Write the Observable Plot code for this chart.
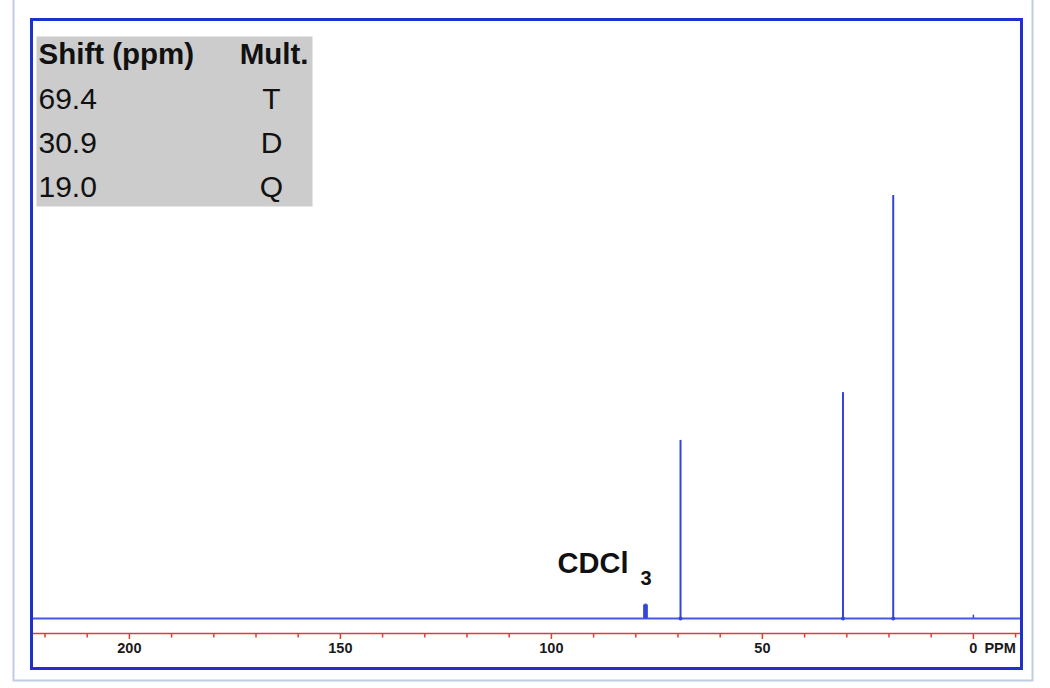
<!DOCTYPE html>
<html>
<head>
<meta charset="utf-8">
<script src="https://cdn.jsdelivr.net/npm/d3@7"></script>
<script src="https://cdn.jsdelivr.net/npm/@observablehq/plot@0.6"></script>
<style>
  html, body { margin: 0; padding: 0; background: #ffffff; }
  #chart svg { display: block; }
</style>
</head>
<body>
<div id="chart"></div>
<script>
// ---- data ----
const shiftPpm = [69.4, 30.9, 19.0];
const multiplicity = ["T", "D", "Q"];
const peakHeight = [42.1, 53.4, 100];          // relative intensity
const solventPpm = [78.0, 77.7, 77.4];          // CDCl3 triplet
const solventHeight = [3.2, 3.4, 3.2];
const solventLabel = "CDCl";
const solventSub = "3";
const tmsPpm = [0];
const tmsHeight = [0.8];
const tableHeader = ["Shift (ppm)", "Mult."];
const tickValues = d3.range(220, -11, -10);
const labelTicks = [200, 150, 100, 50, 0];
const unitLabel = "PPM";

// ---- layout ----
const W = 1050, H = 688;
const mL = 31, mR = 29, mT = 19, mB = 20;
const xDomain = [223.2, -11.4];
const yDomain = [-11.82, 141.6];
const innerH = H - mT - mB;
const unitsPerPx = (yDomain[1] - yDomain[0]) / innerH;
const below = px => -px * unitsPerPx;   // data value px pixels below the baseline

const peaks = shiftPpm.map((p, i) => ({ppm: p, h: peakHeight[i]}));
const solvent = solventPpm.map((p, i) => ({ppm: p, h: solventHeight[i]}));
const tms = tmsPpm.map((p, i) => ({ppm: p, h: tmsHeight[i]}));
const solventTop = {ppm: d3.mean(solventPpm), h: d3.max(solventHeight)};

const blue = "#3346dc";
const frameBlue = "#1f30cf";
const red = "#e23a3a";
const font = "'Liberation Sans', Arial, Helvetica, sans-serif";

const axisY = below(15);
const tableMarks = [];
tableMarks.push(Plot.text([tableHeader[0]], {text: d => d, frameAnchor: "top-left", dx: 7, dy: 35,
  textAnchor: "start", lineAnchor: "middle", fontSize: 29.5, fontWeight: "bold", fill: "#111"}));
tableMarks.push(Plot.text([tableHeader[1]], {text: d => d, frameAnchor: "top-left", dx: 277, dy: 35,
  textAnchor: "end", lineAnchor: "middle", fontSize: 29.5, fontWeight: "bold", fill: "#111"}));
shiftPpm.forEach((s, i) => {
  tableMarks.push(Plot.text([s.toFixed(1)], {text: d => d, frameAnchor: "top-left", dx: 7, dy: 80 + 44 * i,
    textAnchor: "start", lineAnchor: "middle", fontSize: 30, fill: "#111"}));
  tableMarks.push(Plot.text([multiplicity[i]], {text: d => d, frameAnchor: "top-left", dx: 240, dy: 80 + 44 * i,
    textAnchor: "middle", lineAnchor: "middle", fontSize: 30, fill: "#111"}));
});

const chart = Plot.plot({
  width: W, height: H,
  marginLeft: mL, marginRight: mR, marginTop: mT, marginBottom: mB,
  style: {fontFamily: font, background: "#ffffff", overflow: "visible"},
  x: {domain: xDomain, axis: null},
  y: {domain: yDomain, axis: null},
  marks: [
    // outer light border
    Plot.frame({stroke: "#bfcde0", strokeWidth: 2, insetLeft: -18, insetRight: -11, insetBottom: -12, insetTop: -40}),
    // table box
    Plot.frame({fill: "#cccccc", stroke: "none", insetLeft: 5, insetTop: 17, insetRight: 709, insetBottom: 462}),
    ...tableMarks,
    // baseline of spectrum
    Plot.ruleY([0], {stroke: "#4659e4", strokeWidth: 2}),
    // red ppm axis
    Plot.ruleY([axisY], {stroke: red, strokeWidth: 1.5}),
    Plot.ruleX(tickValues, {x: d => d, y1: axisY, y2: d => axisY + below(d % 50 === 0 ? 6 : 4.5), stroke: red, strokeWidth: 1.5}),
    Plot.text(labelTicks, {x: d => d, y: below(30), text: d => String(d), fontSize: 14.5, fontWeight: 900, fill: "#1a1a1a"}),
    Plot.text([0], {x: d => d, y: below(30), text: () => unitLabel, dx: 11, textAnchor: "start", fontSize: 14.5, fontWeight: 900, fill: "#1a1a1a"}),
    // peaks
    Plot.ruleX(solvent, {x: "ppm", y1: 0, y2: "h", stroke: blue, strokeWidth: 2.2}),
    Plot.ruleX(peaks, {x: "ppm", y1: 0, y2: "h", stroke: blue, strokeWidth: 2}),
    Plot.ruleX(tms, {x: "ppm", y1: 0, y2: "h", stroke: blue, strokeWidth: 1.5}),
    Plot.dot(peaks, {x: "ppm", y: 0, r: 2, fill: blue, stroke: "none"}),
    // solvent label
    Plot.text([solventTop], {x: "ppm", y: "h", text: () => solventLabel, dx: -17, dy: -31,
      textAnchor: "end", lineAnchor: "bottom", fontSize: 29, fontWeight: "bold", fill: "#111"}),
    Plot.text([solventTop], {x: "ppm", y: "h", text: () => solventSub, dx: -5, dy: -19,
      textAnchor: "start", lineAnchor: "bottom", fontSize: 20, fontWeight: "bold", fill: "#111"}),
    // plot frame
    Plot.frame({stroke: frameBlue, strokeWidth: 3})
  ]
});
document.getElementById("chart").append(chart);
</script>
</body>
</html>
